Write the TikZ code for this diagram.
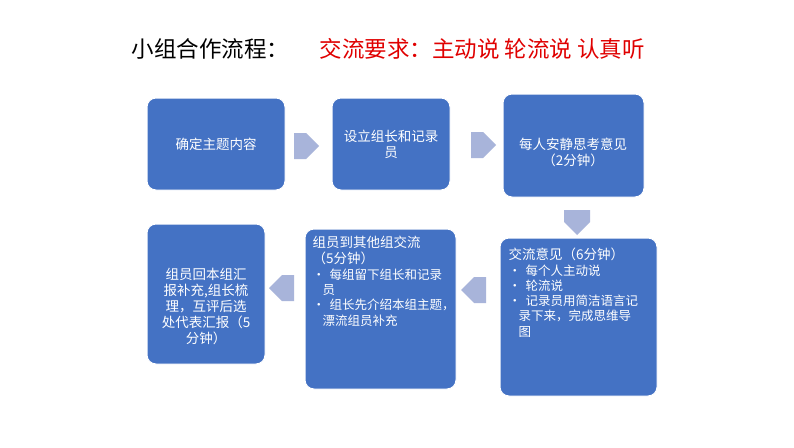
\documentclass[tikz,border=0pt]{standalone}
\usepackage{fontspec}
\setmainfont{Noto Sans CJK SC}
\usetikzlibrary{shapes.arrows}
\definecolor{bx}{HTML}{4472C4}
\definecolor{ar}{HTML}{A8B4DA}
\definecolor{rd}{HTML}{E00000}
\newcommand{\bl}{\fontsize{12.5}{15}\selectfont}
\begin{document}
\begin{tikzpicture}[x=1pt,y=-1pt,
  bx/.style={fill=bx,draw=white,line width=1pt,rounded corners=9pt},
  tx/.style={text=white,font=\fontsize{13.5}{16}\selectfont,align=center},
  ar/.style={fill=ar,draw=none,single arrow,minimum height=25pt,minimum width=26pt,single arrow head extend=0pt,inner sep=0pt}]
\useasboundingbox (0,0) rectangle (794,447);
\fill[white] (0,0) rectangle (794,447);
\node[anchor=west,font=\fontsize{22.5}{26}\selectfont] (t1) at (128,49) {小组合作流程：};
\node[anchor=west,font=\fontsize{22.5}{26}\selectfont,text=rd] (t2) at (316,49) {交流要求：主动说\ 轮流说\ 认真听};
\draw[bx] (147,98) rectangle (285,190); \node[tx] (n1) at (216,144) {确定主题内容};
\draw[bx] (332,98) rectangle (450,190); \node[tx] (n2) at (391,144) {设立组长和记录\\员};
\draw[bx] (503,94) rectangle (644,197); \node[tx] (n3) at (573,152) {每人安静思考意见\\（2分钟）};
\draw[bx] (500,238) rectangle (657,396);
\node[tx,anchor=north west,align=left,text width=150pt] (n4) at (505,244) {交流意见（6分钟）\\[1pt]
\bl • 每个人主动说\\ \bl • 轮流说\\ \bl • 记录员用简洁语言记\\ \bl\hspace*{10pt}录下来，完成思维导\\ \bl\hspace*{10pt}图};
\draw[bx] (305,229) rectangle (456,389);
\node[tx,anchor=north west,align=left,text width=150pt] (n5) at (309,233) {组员到其他组交流\\（5分钟）\\[1pt]
\bl • 每组留下组长和记录\\ \bl\hspace*{10pt}员\\ \bl • 组长先介绍本组主题，\\ \bl\hspace*{10pt}漂流组员补充};
\draw[bx] (147,224) rectangle (265,364); \node[tx] (n6) at (206,306) {组员回本组汇\\报补充,组长梳\\理，互评后选\\处代表汇报（5\\分钟）};
\node[ar] (a1) at (300,146) {};
\node[ar] (a2) at (477,145) {};
\node[ar,shape border rotate=270] (a3) at (577,216) {};
\node[ar,shape border rotate=180] (a4) at (480,290) {};
\node[ar,shape border rotate=180] (a5) at (288,288) {};
\end{tikzpicture}
\end{document}
